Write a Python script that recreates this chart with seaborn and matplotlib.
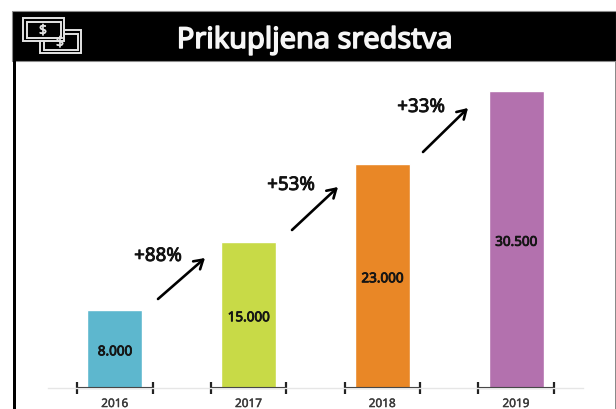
import matplotlib
matplotlib.use('Agg')
import matplotlib.pyplot as plt
import matplotlib.patheffects as pe
from matplotlib.patches import Rectangle
import pandas as pd
import seaborn as sns

years = ['2016', '2017', '2018', '2019']
funds = [8000, 15000, 23000, 30500]
value_labels = ['8.000', '15.000', '23.000', '30.500']
growth_labels = ['+88%', '+53%', '+33%']
bar_colors = ['#5DB7CE', '#C8DA47', '#E98726', '#B371AE']

W, H = 616, 410

sns.set_style('white')
plt.rcParams['font.family'] = ['Noto Sans', 'DejaVu Sans']


def heavy(width, color):
    # no bold cut of the font here, so thicken the letters with a stroke
    return [pe.withStroke(linewidth=width, foreground=color)]


df = pd.DataFrame({'year': years, 'funds': funds})

fig = plt.figure(figsize=(W / 100, H / 100), dpi=100)

# overlay in pixel coordinates for the header and arrows
over = fig.add_axes([0, 0, 1, 1], zorder=3)
over.set_xlim(0, W)
over.set_ylim(H, 0)
over.axis('off')

# chart area, baseline sits just under y=388 px
ax = fig.add_axes([48 / W, (H - 389) / H, 535 / W, 311.6 / H], zorder=2)
ax.patch.set_alpha(0)
sns.barplot(data=df, x='year', y='funds', hue='year', palette=bar_colors,
            width=0.41, saturation=1, legend=False, ax=ax)
ax.set_xlim(-0.5, 3.5)
ax.set_ylim(0, 32000)
ax.set_xlabel('')
ax.set_ylabel('')
ax.set_yticks([])
sns.despine(ax=ax, left=True)
ax.spines['bottom'].set_color('#E6E6E6')
ax.spines['bottom'].set_linewidth(1)
ax.tick_params(axis='x', length=0, pad=6.5, labelsize=8.5, labelcolor='#3A3A3A')
for lab in ax.get_xticklabels():
    lab.set_path_effects(heavy(0.3, '#3A3A3A'))

# value labels and bracket under each bar
for i, v in enumerate(funds):
    ax.annotate(value_labels[i], xy=(i, v / 2), xytext=(0, -2), textcoords='offset points',
                ha='center', va='center', fontsize=9.7, color='#151515',
                path_effects=heavy(0.6, '#151515'))
ax.errorbar(range(len(years)), [0] * len(years), xerr=0.283, fmt='none',
            ecolor='#222222', elinewidth=1.5, capsize=4, capthick=1.6, clip_on=False)

# header
over.add_patch(Rectangle((12, 12), W - 12, 50, fc='black', ec='#8A8A8A', lw=0.8))
over.add_patch(Rectangle((13, 62), 2.5, H - 62, fc='black', ec='none'))
over.add_patch(Rectangle((615, 62), 1, H - 62, fc='#8A8A8A', ec='none'))
over.text(315, 41.5, 'Prikupljena sredstva', color='#F6F6F6', ha='center', va='center',
          fontsize=20.8, path_effects=heavy(1.1, '#F6F6F6'))

# money icon
for x0, y0 in [(40, 31), (23, 19)]:
    over.add_patch(Rectangle((x0, y0), 41, 23, fc='black', ec='#E4E4E4', lw=1.4))
    over.add_patch(Rectangle((x0 + 3.5, y0 + 3.5), 34, 16, fc='black', ec='#E4E4E4', lw=1.4))
    over.text(x0 + 20, y0 + 13, '$', color='#E4E4E4', ha='center', va='center',
              fontsize=10, path_effects=heavy(0.4, '#E4E4E4'))

# growth arrows and labels
arrows = [((158, 300), (205, 259)), ((292, 231), (338, 188)), ((423, 153), (468, 109))]
label_pos = [(158, 257), (291, 186), (421, 108)]
for (start, end), pos, txt in zip(arrows, label_pos, growth_labels):
    over.annotate('', xy=end, xytext=start,
                  arrowprops=dict(arrowstyle='->,head_width=0.38,head_length=0.62', color='black',
                                  lw=1.9, shrinkA=0, shrinkB=0))
    over.text(pos[0], pos[1], txt, ha='center', va='center', fontsize=13.5,
              color='#111111', path_effects=heavy(0.6, '#111111'))

fig.savefig('out.png', dpi=100)
